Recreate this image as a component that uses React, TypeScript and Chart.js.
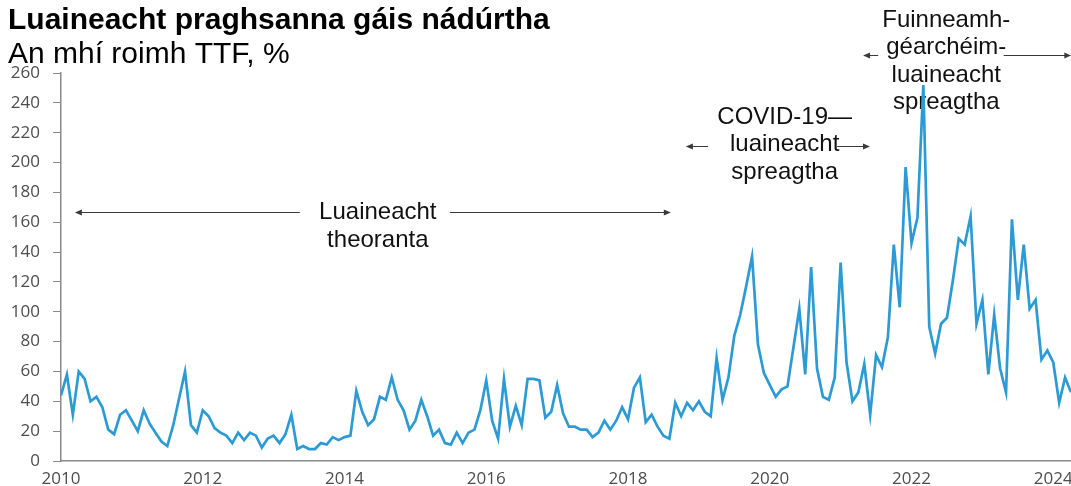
import React, { useEffect, useRef } from "react";
import { Chart, registerables } from "chart.js";

Chart.register(...registerables);

// ---- Data (monthly, Jan 2010 – Apr 2024) ----
const START_YEAR = 2010;
const vol2010 = [44, 58, 31, 60, 55, 40, 43, 36, 21, 18, 31, 34];
const vol2011 = [27, 20, 34, 25, 19, 13, 10, 24, 42, 60, 24, 19];
const vol2012 = [34, 30, 22, 19, 17, 12, 19, 14, 19, 17, 9, 15];
const vol2013 = [17, 12, 18, 31, 8, 10, 8, 8, 12, 11, 16, 14];
const vol2014 = [16, 17, 47, 33, 24, 28, 43, 41, 56, 41, 34, 21];
const vol2015 = [27, 41, 30, 17, 21, 12, 11, 19, 12, 19, 21, 34];
const vol2016 = [54, 27, 15, 55, 23, 37, 24, 55, 55, 54, 29, 33];
const vol2017 = [51, 32, 23, 23, 21, 21, 16, 19, 27, 21, 27, 36];
const vol2018 = [28, 49, 56, 26, 31, 23, 17, 15, 39, 30, 39, 34];
const vol2019 = [40, 33, 30, 69, 41, 56, 84, 98, 117, 137, 78, 59];
const vol2020 = [51, 43, 48, 50, 76, 102, 58, 130, 62, 43, 41, 56];
const vol2021 = [133, 66, 40, 46, 65, 31, 71, 63, 83, 145, 103, 197];
const vol2022 = [146, 163, 252, 90, 72, 92, 96, 121, 149, 145, 164, 92];
const vol2023 = [108, 58, 98, 62, 46, 162, 108, 145, 102, 108, 68, 74];
const vol2024 = [66, 39, 56, 46];

const volatility = [
  ...vol2010, ...vol2011, ...vol2012, ...vol2013, ...vol2014,
  ...vol2015, ...vol2016, ...vol2017, ...vol2018, ...vol2019,
  ...vol2020, ...vol2021, ...vol2022, ...vol2023, ...vol2024,
];

const X_MIN = 2010;
const X_MAX = 2024.25;
const X_STEP = 2;
const Y_MIN = 0;
const Y_MAX = 260;
const Y_STEP = 20;

const TITLE = "Luaineacht praghsanna gáis nádúrtha";
const SUBTITLE = "An mhí roimh TTF, %";

// Annotation texts, anchored in data coordinates
const ANNOTATIONS = [
  {
    lines: ["Luaineacht", "theoranta"],
    x: 2014.47,
    y: 162,
    arrowY: 167,
    left: [2013.37, 2010.21],
    right: [2015.49, 2018.59],
  },
  {
    lines: ["COVID-19—", "luaineacht", "spreagtha"],
    x: 2020.21,
    y: 226,
    arrowY: 211,
    left: [2019.13, 2018.83],
    right: [2020.95, 2021.4],
  },
  {
    lines: ["Fuinneamh-", "géarchéim-", "luaineacht", "spreagtha"],
    x: 2022.49,
    y: 291,
    arrowY: 272,
    left: [2021.53, 2021.33],
    right: [2023.3, 2024.24],
  },
];

const FONT_SANS = '"Liberation Sans", Arial, Helvetica, sans-serif';
const FONT_TICK = '"Open Sans", "Noto Sans", sans-serif';

function drawArrow(ctx: CanvasRenderingContext2D, x0: number, x1: number, y: number) {
  ctx.beginPath();
  ctx.moveTo(x0, y);
  ctx.lineTo(x1, y);
  ctx.stroke();
  const dir = x1 > x0 ? 1 : -1;
  ctx.beginPath();
  ctx.moveTo(x1 + dir * 1, y);
  ctx.lineTo(x1 - dir * 6, y - 3);
  ctx.lineTo(x1 - dir * 6, y + 3);
  ctx.closePath();
  ctx.fill();
}

const overlayPlugin = {
  id: "overlay",
  beforeDatasetsDraw(chart: any) {
    const ctx: CanvasRenderingContext2D = chart.ctx;
    const xs = chart.scales.x;
    const ys = chart.scales.y;
    ctx.save();
    ctx.font = `24px ${FONT_SANS}`;
    ctx.fillStyle = "#111";
    ctx.textAlign = "center";
    ctx.textBaseline = "alphabetic";
    for (const a of ANNOTATIONS) {
      const cx = xs.getPixelForValue(a.x);
      const by = ys.getPixelForValue(a.y);
      a.lines.forEach((t, i) => ctx.fillText(t, cx, by + i * 27.5));
    }
    ctx.strokeStyle = "#3a3a3a";
    ctx.fillStyle = "#3a3a3a";
    ctx.lineWidth = 1;
    for (const a of ANNOTATIONS) {
      const ay = Math.round(ys.getPixelForValue(a.arrowY)) + 0.5;
      drawArrow(ctx, xs.getPixelForValue(a.left[0]), xs.getPixelForValue(a.left[1]), ay);
      drawArrow(ctx, xs.getPixelForValue(a.right[0]), xs.getPixelForValue(a.right[1]), ay);
    }
    ctx.restore();
  },
  afterDraw(chart: any) {
    const ctx: CanvasRenderingContext2D = chart.ctx;
    ctx.save();
    ctx.fillStyle = "#000";
    ctx.textAlign = "left";
    ctx.textBaseline = "alphabetic";
    ctx.font = `bold 30px ${FONT_SANS}`;
    ctx.fillText(TITLE, 8, 29);
    ctx.font = `30px ${FONT_SANS}`;
    ctx.fillText(SUBTITLE, 8, 63);
    ctx.restore();
  },
};

export default function App() {
  const ref = useRef<HTMLCanvasElement | null>(null);

  useEffect(() => {
    document.body.style.margin = "0";
    const canvas = ref.current;
    if (!canvas) return;
    const points = volatility.map((v, i) => ({ x: START_YEAR + i / 12, y: v }));
    const chart = new Chart(canvas, {
      type: "line",
      data: {
        datasets: [
          {
            label: "TTF",
            data: points,
            borderColor: "#2B9AD5",
            borderWidth: 2.7,
            pointRadius: 0,
            tension: 0,
            fill: false,
          },
        ],
      },
      options: {
        animation: false,
        responsive: false,
        maintainAspectRatio: false,
        layout: { padding: { top: 73, left: 0, right: 0, bottom: 0 } },
        plugins: {
          legend: { display: false },
          tooltip: { enabled: false },
          title: { display: false },
        },
        scales: {
          x: {
            type: "linear",
            min: X_MIN,
            max: X_MAX,
            offset: false,
            grid: { display: false, drawTicks: false },
            border: { display: true, color: "#8a8a8a", width: 1.5 },
            ticks: {
              stepSize: X_STEP,
              includeBounds: false,
              autoSkip: false,
              maxRotation: 0,
              padding: 8,
              color: "#4d4d4d",
              font: { family: FONT_TICK, size: 17 },
              callback: (v: any) => String(v),
            },
            afterFit: (s: any) => {
              s.height = 25;
              s.paddingLeft = 0;
              s.paddingRight = 0;
            },
          },
          y: {
            min: Y_MIN,
            max: Y_MAX,
            grid: {
              display: true,
              drawOnChartArea: false,
              drawTicks: true,
              tickLength: 8,
              color: "#8a8a8a",
            },
            border: { display: true, color: "#8a8a8a", width: 1.5 },
            ticks: {
              stepSize: Y_STEP,
              padding: 13,
              color: "#4d4d4d",
              font: { family: FONT_TICK, size: 17 },
              callback: (v: any) => String(v),
            },
            afterFit: (s: any) => {
              s.width = 61;
              s.paddingTop = 0;
              s.paddingBottom = 0;
            },
          },
        },
      },
      plugins: [overlayPlugin],
    });
    return () => chart.destroy();
  }, []);

  return (
    <div style={{ width: 1071, height: 486, position: "relative" }}>
      <canvas ref={ref} width={1071} height={486} style={{ display: "block" }} />
    </div>
  );
}
